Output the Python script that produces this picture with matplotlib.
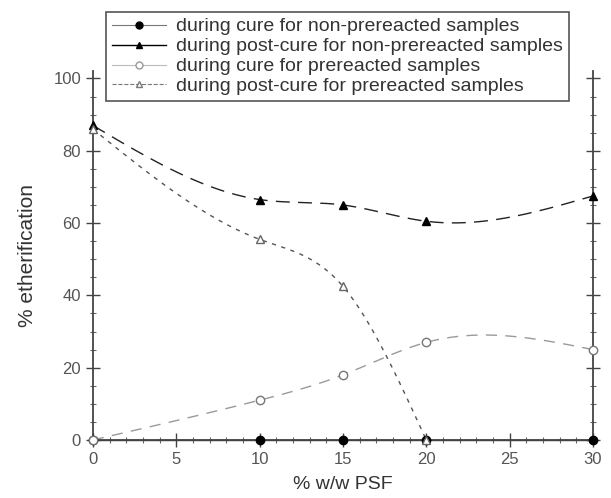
import numpy as np
import matplotlib
matplotlib.use('Agg')
import matplotlib.pyplot as plt
from matplotlib.ticker import MultipleLocator

plt.rcParams['font.family'] = ['Liberation Sans', 'DejaVu Sans']

# данные
psf = [0, 10, 15, 20, 30]
cure_nonpre = [0, 0, 0, 0, 0]
post_nonpre = [87, 66.5, 65, 60.5, 67.5]
cure_pre = [0, 11, 18, 27, 25]
psf_post_pre = [0, 10, 15, 20]
post_pre = [86, 55.5, 42.5, 0]

labels = ['during cure for non-prereacted samples',
          'during post-cure for non-prereacted samples',
          'during cure for prereacted samples',
          'during post-cure for prereacted samples']


def spline(x, y, n=200):
    # натуральный кубический сплайн, только для сглаживания линии
    x = np.asarray(x, float)
    y = np.asarray(y, float)
    m = len(x)
    h = np.diff(x)
    A = np.zeros((m, m))
    b = np.zeros(m)
    A[0, 0] = A[-1, -1] = 1
    for i in range(1, m - 1):
        A[i, i - 1] = h[i - 1]
        A[i, i] = 2 * (h[i - 1] + h[i])
        A[i, i + 1] = h[i]
        b[i] = 6 * ((y[i + 1] - y[i]) / h[i] - (y[i] - y[i - 1]) / h[i - 1])
    M = np.linalg.solve(A, b)
    xs = np.linspace(x[0], x[-1], n)
    k = np.clip(np.searchsorted(x, xs) - 1, 0, m - 2)
    t0 = x[k + 1] - xs
    t1 = xs - x[k]
    hk = h[k]
    ys = (M[k] * t0 ** 3 / (6 * hk) + M[k + 1] * t1 ** 3 / (6 * hk)
          + (y[k] / hk - M[k] * hk / 6) * t0 + (y[k + 1] / hk - M[k + 1] * hk / 6) * t1)
    return xs, ys


fig = plt.figure(figsize=(6.11, 4.98), dpi=100)
ax = fig.add_axes([0.152, 0.1165, 0.8185, 0.7405])

# линии
xs, ys = spline(psf, cure_nonpre)
ax.plot(xs, ys, '-', color='#333333', lw=1.0, clip_on=False)
xs, ys = spline(psf, post_nonpre)
ax.plot(xs, ys, color='#222222', lw=1.0, dashes=(10, 6), clip_on=False)
xs, ys = spline(psf, cure_pre)
ax.plot(xs, ys, color='#9a9a9a', lw=1.0, dashes=(8, 6), clip_on=False)
xs, ys = spline(psf_post_pre, post_pre)
ax.plot(xs, ys, color='#555555', lw=1.0, dashes=(3, 4), clip_on=False)

# маркеры
ax.plot(psf, cure_nonpre, 'o', color='black', ms=6, clip_on=False, zorder=5)
ax.plot(psf, post_nonpre, '^', color='black', ms=6, clip_on=False, zorder=5)
ax.plot(psf, cure_pre, 'o', mfc='white', mec='#777777', ms=6, clip_on=False, zorder=6)
ax.plot(psf_post_pre, post_pre, '^', mfc='white', mec='#666666', ms=6, clip_on=False, zorder=6)

ax.set_xlim(0, 30)
ax.set_ylim(0, 102)
ax.spines['top'].set_visible(False)
for s in ['left', 'right', 'bottom']:
    ax.spines[s].set_linewidth(1.3)
    ax.spines[s].set_color('#444444')
ax.xaxis.set_major_locator(MultipleLocator(5))
ax.xaxis.set_minor_locator(MultipleLocator(1))
ax.yaxis.set_major_locator(MultipleLocator(20))
ax.yaxis.set_minor_locator(MultipleLocator(5))
ax.tick_params(which='major', direction='inout', length=10, width=1.0, labelsize=12,
               colors='#444444', right=True, labelcolor='#555555')
ax.tick_params(which='minor', direction='inout', length=5, width=0.8, colors='#666666', right=True)
ax.tick_params(axis='x', which='both', pad=4)

ax.set_xlabel('% w/w PSF', fontsize=14, color='#333333', labelpad=6)
ax.set_ylabel('% etherification', fontsize=15, color='#333333', labelpad=12)

# легенда
h1, = ax.plot([], [], '-o', color='#777777', mfc='black', mec='black', ms=5, lw=0.8)
h2, = ax.plot([], [], '-^', color='black', mfc='black', ms=5, lw=1.0)
h3, = ax.plot([], [], '-o', color='#bbbbbb', mfc='white', mec='#999999', ms=5, lw=0.8)
h4, = ax.plot([], [], '--^', color='#777777', mfc='white', mec='#777777', ms=5, lw=0.8)
leg = fig.legend([h1, h2, h3, h4], labels, loc='upper left',
                 bbox_to_anchor=(106 / 611, 1 - 12 / 498), fontsize=14,
                 frameon=True, fancybox=False, framealpha=1, edgecolor='#555555',
                 handlelength=2.8, handletextpad=0.5, labelspacing=0.12,
                 borderpad=0.3, borderaxespad=0)
leg.get_frame().set_linewidth(1.2)
for t in leg.get_texts():
    t.set_color('#333333')

fig.savefig('out.png', dpi=100)
